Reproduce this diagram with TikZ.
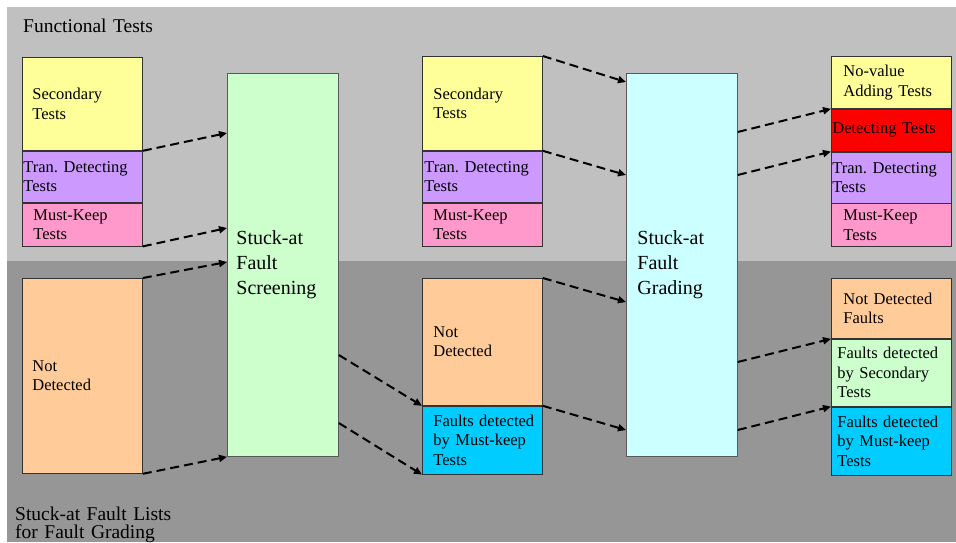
\documentclass[tikz,border=0pt]{standalone}
\usepackage{fontspec}
\setmainfont{Liberation Serif}
\usepackage{tikz}
\usetikzlibrary{arrows.meta, positioning}
\frenchspacing
\definecolor{bandtop}{RGB}{192,192,192}
\definecolor{bandbot}{RGB}{150,150,150}
\definecolor{secy}{RGB}{255,255,153}
\definecolor{tranp}{RGB}{204,153,255}
\definecolor{mkpink}{RGB}{255,153,204}
\definecolor{ndpeach}{RGB}{255,204,153}
\definecolor{scrgrn}{RGB}{204,255,204}
\definecolor{grdcyan}{RGB}{204,255,255}
\definecolor{detred}{RGB}{255,0,0}
\definecolor{fmblue}{RGB}{0,204,255}
\tikzset{
  cell/.style ={rectangle, draw=black!80, line width=0.8pt, anchor=north west, inner sep=0pt,
                text width=120pt, minimum width=120pt, align=left, font=\fontsize{16.5}{19.5}\selectfont},
  big/.style  ={rectangle, draw=black!65, line width=0.8pt, anchor=north west, inner sep=0pt,
                text width=111pt, minimum width=111pt, minimum height=383pt, align=left,
                font=\fontsize{20}{25}\selectfont},
  ind/.style  ={execute at begin node={\leftskip=#1pt}},
  hdr/.style  ={anchor=base west, inner sep=0pt, text width=220pt, align=left, font=\fontsize{19.5}{18}\selectfont},
  fl/.style   ={-{Triangle[length=8pt, width=7pt]}, line width=2pt, dash pattern=on 9pt off 5pt},
}
\begin{document}
\begin{tikzpicture}[x=1pt, y=-1pt]
  \useasboundingbox (0,0) rectangle (956,542);
  \fill[bandtop] (7,7) rectangle (956,261);
  \fill[bandbot] (7,261) rectangle (956,542);
  \node[hdr] (ftl) at (23,32) {Functional Tests};
  \node[hdr] (sfl) at (15,520) {Stuck-at Fault Lists\\for Fault Grading};

  \node[cell, fill=secy, minimum height=93pt, ind=10] (sec1) at (22,57) {Secondary\\Tests};
  \node[cell, fill=tranp, minimum height=51pt, ind=1, below=0pt of sec1] (tr1) {Tran. Detecting\\Tests};
  \node[cell, fill=mkpink, minimum height=43pt, ind=11, below=0pt of tr1] (mk1) {Must-Keep\\Tests};
  \node[cell, fill=ndpeach, minimum height=195pt, ind=10] (nd1) at (22,278) {Not\\Detected};

  \node[big, fill=scrgrn, ind=9] (scr) at (227,73) {Stuck-at\\Fault\\Screening};

  \node[cell, fill=secy, minimum height=94pt, ind=11] (sec2) at (422,56) {Secondary\\Tests};
  \node[cell, fill=tranp, minimum height=51pt, ind=2, below=0pt of sec2] (tr2) {Tran. Detecting\\Tests};
  \node[cell, fill=mkpink, minimum height=43pt, ind=11, below=0pt of tr2] (mk2) {Must-Keep\\Tests};
  \node[cell, fill=ndpeach, minimum height=127pt, ind=11] (nd2) at (422,278) {Not\\Detected};
  \node[cell, fill=fmblue, minimum height=68pt, ind=11, below=0pt of nd2] (fd2) {Faults detected\\by Must-keep\\Tests};

  \node[big, fill=grdcyan, ind=11] (grd) at (626,73) {Stuck-at\\Fault\\Grading};

  \node[cell, fill=secy, minimum height=52pt, ind=12] (nv3) at (831,56) {No-value\\Adding Tests};
  \node[cell, fill=detred, minimum height=42pt, ind=1, below=0pt of nv3] (det3) {Detecting Tests};
  \node[cell, fill=tranp, minimum height=51pt, ind=1, below=0pt of det3] (tr3) {Tran. Detecting\\Tests};
  \node[cell, fill=mkpink, minimum height=43pt, ind=12, below=0pt of tr3] (mk3) {Must-Keep\\Tests};
  \node[cell, fill=ndpeach, minimum height=60pt, ind=12] (nf3) at (831,278) {Not Detected\\Faults};
  \node[cell, fill=scrgrn, minimum height=67pt, ind=6, below=0pt of nf3] (fs3) {Faults detected\\by Secondary\\Tests};
  \node[cell, fill=fmblue, minimum height=68pt, ind=6, below=0pt of fs3] (fm3) {Faults detected\\by Must-keep\\Tests};

  \draw[fl] (sec1.south east) -- ([yshift=-60pt]scr.north west);
  \draw[fl] (mk1.south east) -- ([yshift=-155pt]scr.north west);
  \draw[fl] (nd1.north east) -- ([yshift=-189pt]scr.north west);
  \draw[fl] (nd1.south east) -- (scr.south west);
  \draw[fl] ([yshift=-282pt]scr.north east) -- (fd2.north west);
  \draw[fl] ([yshift=-350pt]scr.north east) -- (fd2.south west);
  \draw[fl] (sec2.north east) -- ([yshift=-9pt]grd.north west);
  \draw[fl] (sec2.south east) -- ([yshift=-102pt]grd.north west);
  \draw[fl] (nd2.north east) -- ([yshift=-229pt]grd.north west);
  \draw[fl] (nd2.south east) -- ([yshift=-357pt]grd.north west);
  \draw[fl] ([yshift=-59pt]grd.north east) -- (det3.north west);
  \draw[fl] ([yshift=-102pt]grd.north east) -- (tr3.north west);
  \draw[fl] ([yshift=-289pt]grd.north east) -- (fs3.north west);
  \draw[fl] ([yshift=-357pt]grd.north east) -- (fm3.north west);
\end{tikzpicture}
\end{document}
